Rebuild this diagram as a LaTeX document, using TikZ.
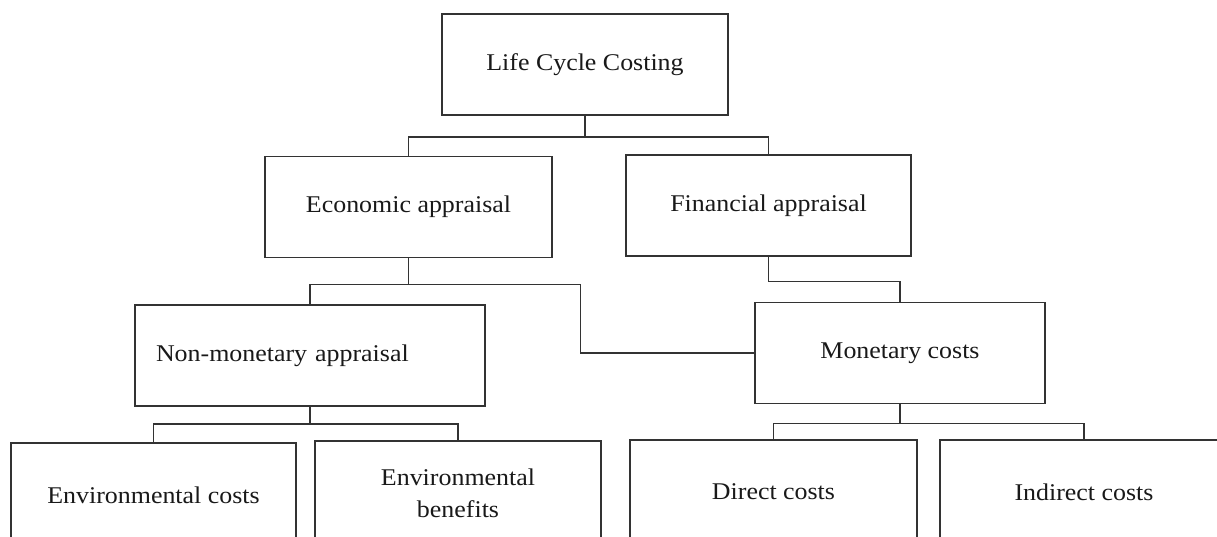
\documentclass[tikz,border=0pt]{standalone}
\usepackage{fontspec}
\setmainfont{Liberation Serif}[FakeStretch=1.08]
\begin{document}
\begin{tikzpicture}[x=1pt,y=-1pt,
  box/.style={draw=black!80, line width=1.8pt, minimum width=#1, minimum height=101,
    inner sep=0pt, font=\fontsize{24}{32}\selectfont, align=center, text=black!90},
  lowbox/.style={box=#1, minimum height=104},
  conn/.style={draw=black!80, line width=1.8pt}]
\useasboundingbox (0,0) rectangle (1217,536);
\clip (0,0) rectangle (1217,536);
\fill[white] (0,0) rectangle (1217,536);
\node[box=286] (lcc) at (585,64.5) {Life Cycle Costing};
\node[box=287] (econ) at (408.5,207) {Economic appraisal};
\node[box=285] (fin) at (768.5,205.5) {Financial appraisal};
\node[box=350, text width=308, inner xsep=21, align=left] (nonmon) at (310,355.5) {Non-monetary appraisal};
\node[box=290] (mon) at (900,353) {Monetary costs};
\node[lowbox=285] (envc) at (153.5,495) {Environmental costs};
\node[lowbox=286] (envb) at (458,493) {Environmental\\benefits};
\node[lowbox=287] (dirc) at (773.5,492) {Direct costs};
\node[lowbox=288] (indc) at (1084,492) {Indirect costs};
\draw[conn] (lcc.south) -- ++(0,21) -| (econ.north);
\draw[conn] (lcc.south) ++(0,21) -| (fin.north);
\draw[conn] (econ.south) -- ++(0,26) -| (nonmon.north);
\draw[conn] (econ.south) ++(0,26) -- ++(172,0) |- (mon.west);
\draw[conn] (fin.south) -- ++(0,24.5) -| (mon.north);
\draw[conn] (nonmon.south) -- ++(0,17) -| (envc.north);
\draw[conn] (nonmon.south) ++(0,17) -| (envb.north);
\draw[conn] (mon.south) -- ++(0,19) -| (dirc.north);
\draw[conn] (mon.south) ++(0,19) -| (indc.north);
\end{tikzpicture}
\end{document}
